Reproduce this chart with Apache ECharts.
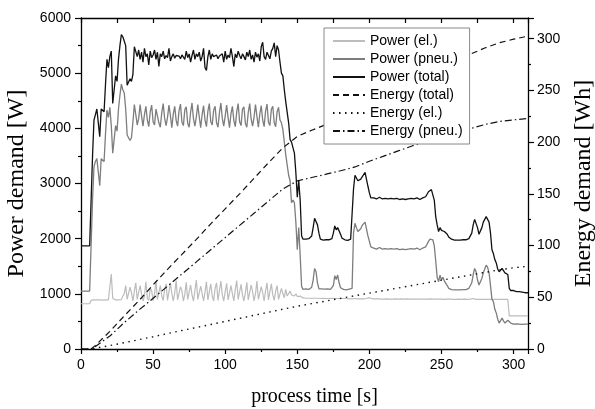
<!DOCTYPE html>
<html>
<head>
<meta charset="utf-8">
<script src="https://cdn.jsdelivr.net/npm/echarts/dist/echarts.min.js"></script>
<style>
  html, body { margin: 0; padding: 0; background: #fff; }
  #chart { width: 595px; height: 409px; }
</style>
</head>
<body>
<div id="chart"></div>
<script>
// power samples, one value per second (t = 0 .. 310 s)
const powerEl = [
  820,820,820,820,820,820,820,880,890,890,
  890,890,895,890,890,885,890,890,895,890,
  900,1360,920,890,890,885,890,890,895,960,
  1000,1150,900,880,1120,1020,870,1050,1200,900,
  880,1150,1000,870,960,1220,920,880,1100,1060,
  870,1000,1230,900,870,1150,960,880,1080,1180,
  880,900,1200,1000,870,1020,1240,890,880,1130,
  1050,870,990,1210,900,880,1160,980,870,1060,
  1250,900,880,1140,1010,870,1030,1220,890,880,
  1180,960,870,1100,1200,880,900,1230,980,870,
  1040,1190,890,880,1150,1000,870,1080,1240,900,
  880,1170,980,870,1020,1210,890,890,1160,1040,
  870,1000,1230,900,880,1130,1020,870,1060,1200,
  890,890,1180,980,880,1050,1150,900,920,1100,
  1000,930,1080,960,940,1050,980,990,960,1000,
  950,940,960,930,925,920,920,915,920,920,
  920,925,920,915,920,920,915,920,920,915,
  915,920,915,915,920,915,915,920,915,915,
  915,915,915,910,915,915,910,915,910,910,
  915,910,910,915,910,910,910,910,915,925,
  930,915,910,910,910,905,910,910,905,910,
  905,910,910,905,905,910,905,905,910,905,
  905,905,910,905,905,905,910,905,905,905,
  905,905,905,910,905,905,905,905,905,905,
  905,905,910,905,905,905,905,900,905,905,
  905,905,900,905,905,900,905,900,900,905,
  900,900,905,900,900,900,905,900,900,900,
  905,910,915,905,900,900,900,905,900,900,
  900,905,900,900,900,900,900,900,900,900,
  900,900,900,900,900,900,900,600,600,600,
  600,600,600,600,600,600,600,600,600,600,600
];
const powerPneu = [
  1050,1050,1050,1050,1050,1050,1050,1050,2700,3300,
  3400,3450,3480,2960,3450,3480,3400,3900,4330,4200,
  4380,4050,3550,3800,4050,3950,4350,4600,4800,4700,
  4640,4350,3880,3870,3780,3830,4110,4430,4250,4060,
  4180,4430,4220,4040,4250,4400,4150,4030,4300,4420,
  4120,4060,4350,4380,4100,4020,4280,4450,4180,4050,
  4200,4420,4230,4010,4260,4400,4140,4040,4320,4440,
  4110,4050,4340,4390,4090,4020,4290,4460,4170,4040,
  4210,4430,4210,4010,4250,4410,4150,4030,4310,4450,
  4120,4060,4330,4400,4100,4020,4280,4460,4180,4040,
  4220,4420,4200,4010,4260,4400,4140,4030,4300,4450,
  4120,4050,4350,4390,4090,4020,4290,4450,4170,4040,
  4200,4430,4220,4020,4260,4410,4150,4030,4310,4440,
  4110,4050,4340,4400,4100,4030,4300,4380,4150,4100,
  3980,3750,3520,3500,3150,3050,2650,2700,2650,2300,
  1800,2200,1700,1130,1080,1070,1090,1100,1080,1090,
  1120,1250,1460,1400,1200,1090,1080,1090,1080,1085,
  1080,1090,1085,1080,1100,1150,1330,1260,1340,1200,
  1110,1090,1080,1075,1070,1080,1085,1090,1100,2100,
  2280,2200,2130,2150,2180,2240,2270,2300,2280,2050,
  1950,1850,1820,1830,1820,1810,1830,1840,1820,1810,
  1800,1820,1830,1810,1800,1820,1830,1810,1800,1820,
  1810,1800,1790,1810,1820,1800,1790,1810,1830,1820,
  1800,1810,1820,1830,1810,1800,1820,1830,1840,1850,
  1880,1950,1990,2000,1980,1870,1600,1300,1220,1340,
  1250,1300,1230,1190,1150,1100,1080,1075,1070,1070,
  1070,1070,1075,1070,1070,1075,1080,1075,1080,1100,
  1130,1200,1350,1460,1400,1250,1160,1180,1280,1380,
  1450,1520,1480,1380,1150,900,860,720,650,540,
  470,500,560,510,470,480,520,500,470,460,
  450,450,455,450,450,450,445,450,450,450,450
];
const powerTotal = [
  1870,1870,1870,1870,1870,1870,1870,1870,3500,4150,
  4250,4350,4380,3850,4350,4380,4300,4800,5250,5100,
  5300,5400,4450,4700,4950,4850,5250,5500,5700,5660,
  5640,5500,4780,4750,4900,4850,4980,5480,5450,5300,
  5420,5250,5380,5200,5450,5300,5350,5150,5400,5280,
  5330,5420,5250,5380,5120,5350,5300,5400,5260,5320,
  5280,5450,5220,5300,5350,5270,5320,5290,5310,5260,
  5330,5300,5250,5400,5280,5350,5200,5320,5420,5250,
  5350,5300,5380,5220,5300,5450,5100,5050,5300,5420,
  5250,5350,5300,5280,5330,5260,5310,5290,5350,5200,
  5400,5250,5330,5280,5450,5300,5120,5350,5280,5400,
  5320,5260,5350,5300,5240,5380,5300,5420,5250,5330,
  5200,5380,5290,5350,5220,5480,5560,5300,5250,5380,
  5320,5260,5400,5450,5550,5300,5500,5420,5200,5000,
  4950,4700,4480,4450,4100,3800,3750,3650,3550,3200,
  2750,3050,2700,2050,1990,1980,1990,1990,2000,2000,
  2050,2200,2370,2380,2250,2100,1990,1980,1975,1975,
  1980,1975,1980,1985,2000,2100,2230,2160,2200,2210,
  2080,2010,1990,1980,1975,1970,1980,1990,2000,2900,
  3150,3120,3050,3030,3080,3120,3150,3200,3210,2950,
  2830,2740,2730,2740,2730,2720,2740,2750,2730,2720,
  2710,2730,2740,2720,2710,2730,2740,2720,2710,2730,
  2720,2710,2700,2720,2730,2710,2700,2720,2740,2730,
  2710,2720,2730,2740,2720,2710,2730,2740,2750,2760,
  2790,2850,2880,2890,2870,2700,2400,2250,2130,2200,
  2150,2170,2130,2100,2080,2030,2000,1990,1980,1975,
  1975,1975,1980,1975,1975,1980,1985,1980,1985,2000,
  2030,2100,2250,2350,2330,2200,2080,2100,2200,2300,
  2350,2400,2420,2300,2100,1800,1730,1620,1560,1450,
  1400,1420,1460,1420,1380,1400,1350,1100,1060,1050,
  1060,1050,1040,1045,1040,1030,1030,1025,1020,1020,1020
];

// cumulative energy [Wh]
const energyTime = [0,7,10,20,30,40,50,60,70,80,90,100,110,120,130,140,150,160,170,180,190,200,210,220,230,240,250,260,270,280,290,300,310];
const energyTotal = [0,0,3.5,17,32,46.5,62,77,91.5,106,121,135.5,150,165,180,194.5,205.5,211.5,217,223,228.5,237,244.5,252,259.5,267,274,279.5,285,291,296,299.5,302.5];
const energyEl = [0,0,0.8,3.3,6.1,9,11.9,14.9,17.9,20.8,23.7,26.7,29.6,32.6,35.5,38.5,41.3,43.9,46.4,49,51.5,54,56.5,59,61.5,64,66.5,69,71.5,74,76.5,78.5,80];
const energyPneu = [0,0,2.5,12.5,25.5,37.5,49,60.7,72.5,84.2,96,107.7,119.5,131.2,143,154.7,162.5,165.8,169,172.3,176,181.5,186.5,191.5,196.5,201.5,206.5,209.5,213,217,220,221.5,223];

const sans = 'Liberation Sans, Arial, sans-serif';
const serif = 'Liberation Serif, Times New Roman, serif';

function perSecond(values) {
    return values.map((v, i) => [i, v]);
}
function onEnergyGrid(values) {
    return energyTime.map((t, i) => [t, values[i]]);
}

const chart = echarts.init(document.getElementById('chart'), null, { renderer: 'canvas' });

const axisLine = { show: true, onZero: false, lineStyle: { color: '#000', width: 1.3 } };
// plain numbers, no thousands separator
const tickLabel = { color: '#000', fontSize: 14, fontFamily: sans, formatter: v => String(v) };

const option = {
    animation: false,
    backgroundColor: '#fff',
    grid: { left: 81, right: 67, top: 18, bottom: 60, outerBoundsMode: 'none' },
    legend: {
        orient: 'vertical',
        left: 324,
        top: 28,
        padding: [6, 7, 6, 8],
        itemGap: 4,
        itemWidth: 32,
        itemHeight: 12,
        borderColor: '#888',
        borderWidth: 1,
        backgroundColor: '#fff',
        itemStyle: { opacity: 0 },   // hide the symbol, keep the line
        textStyle: { color: '#000', fontSize: 14, fontFamily: sans },
        data: ['Power (el.)', 'Power (pneu.)', 'Power (total)', 'Energy (total)', 'Energy (el.)', 'Energy (pneu.)']
    },
    xAxis: [
        {
            type: 'value', position: 'bottom', min: 0, max: 310, interval: 50,
            axisLine,
            axisTick: { show: true, inside: false, length: 5, lineStyle: { color: '#000', width: 1.2 } },
            minorTick: { show: true, splitNumber: 2, length: 3, lineStyle: { color: '#000', width: 1.2 } },
            splitLine: { show: false },
            axisLabel: { ...tickLabel, margin: 9, showMaxLabel: false },
            name: 'process time [s]',
            nameLocation: 'middle',
            nameGap: 38,
            nameTextStyle: { color: '#000', fontSize: 20, fontFamily: serif, padding: [0, 0, 0, 20] }
        },
        {
            type: 'value', position: 'top', min: 0, max: 310, interval: 25,
            axisLine,
            axisTick: { show: true, inside: true, length: 5, lineStyle: { color: '#000', width: 1.2 } },
            splitLine: { show: false },
            axisLabel: { show: false }
        }
    ],
    yAxis: [
        {
            type: 'value', position: 'left', min: 0, max: 6000, interval: 1000,
            axisLine,
            axisTick: { show: true, inside: false, length: 6, lineStyle: { color: '#000', width: 1.2 } },
            minorTick: { show: true, splitNumber: 2, length: 3, lineStyle: { color: '#000', width: 1.2 } },
            splitLine: { show: false },
            axisLabel: { ...tickLabel, margin: 10 },
            name: 'Power demand [W]',
            nameLocation: 'middle',
            nameRotate: 90,
            nameGap: 40,
            nameTextStyle: { color: '#000', fontSize: 24, fontFamily: serif }
        },
        {
            type: 'value', position: 'right', min: 0, max: 320, interval: 50,
            axisLine,
            axisTick: { show: true, inside: false, length: 6, lineStyle: { color: '#000', width: 1.2 } },
            minorTick: { show: true, splitNumber: 2, length: 3, lineStyle: { color: '#000', width: 1.2 } },
            splitLine: { show: false },
            axisLabel: { ...tickLabel, margin: 9, showMaxLabel: false },
            name: 'Energy demand [Wh]',
            nameLocation: 'middle',
            nameRotate: 90,
            nameGap: 43,
            nameTextStyle: { color: '#000', fontSize: 24, fontFamily: serif }
        }
    ],
    series: [
        {
            name: 'Power (el.)', type: 'line', symbol: 'none', data: perSecond(powerEl),
            lineStyle: { color: '#bcbcbc', width: 1.2 }, itemStyle: { color: '#bcbcbc' }
        },
        {
            name: 'Power (pneu.)', type: 'line', symbol: 'none', data: perSecond(powerPneu),
            lineStyle: { color: '#7d7d7d', width: 1.3 }, itemStyle: { color: '#7d7d7d' }
        },
        {
            name: 'Power (total)', type: 'line', symbol: 'none', data: perSecond(powerTotal),
            lineStyle: { color: '#111', width: 1.3 }, itemStyle: { color: '#111' }
        },
        {
            name: 'Energy (total)', type: 'line', symbol: 'none', yAxisIndex: 1, data: onEnergyGrid(energyTotal),
            lineStyle: { color: '#111', width: 1.2, type: [6, 4] }, itemStyle: { color: '#111' }
        },
        {
            name: 'Energy (el.)', type: 'line', symbol: 'none', yAxisIndex: 1, data: onEnergyGrid(energyEl),
            lineStyle: { color: '#111', width: 1.4, type: [1.5, 4.5] }, itemStyle: { color: '#111' }
        },
        {
            name: 'Energy (pneu.)', type: 'line', symbol: 'none', yAxisIndex: 1, data: onEnergyGrid(energyPneu),
            lineStyle: { color: '#111', width: 1.2, type: [7, 3, 1.5, 3] }, itemStyle: { color: '#111' }
        }
    ]
};

chart.setOption(option);
</script>
</body>
</html>
